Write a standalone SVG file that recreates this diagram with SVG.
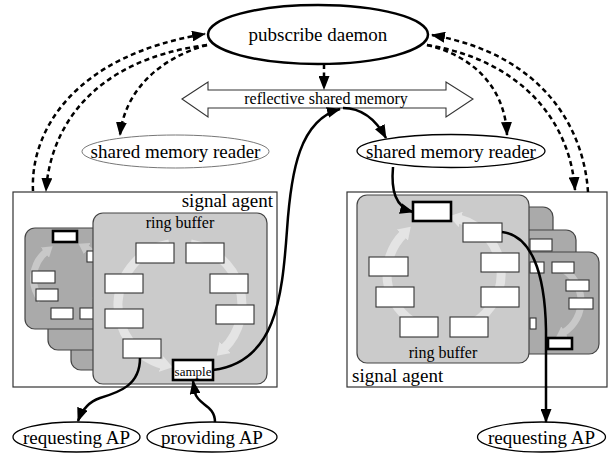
<svg xmlns="http://www.w3.org/2000/svg" width="608" height="453" viewBox="0 0 608 453" font-family="'Liberation Serif', 'Times New Roman', 'DejaVu Serif', serif">
  <defs>
    <style>
      text { font-family: 'Liberation Serif', 'Times New Roman', 'DejaVu Serif', serif; fill: #000; }
      .node { fill: #fff; stroke: #000; stroke-width: 1.3; }
      .agent { fill: #fff; stroke: #333; stroke-width: 1.2; }
      .front { fill: #cbcbcb; stroke: #444; stroke-width: 1.2; }
      .back { fill: #aaaaaa; stroke: #444; stroke-width: 1.2; }
      .slot { fill: #fff; stroke: #333; stroke-width: 1.1; }
      .cur { fill: #fff; stroke: #000; stroke-width: 2.6; }
      .ringF { fill: none; stroke: #e4e4e4; stroke-width: 9; }
      .ringB { fill: none; stroke: #c8c8c8; stroke-width: 7; }
      .solid { fill: none; stroke: #000; stroke-width: 2.5; }
      .dash { fill: none; stroke: #000; stroke-width: 2.5; stroke-dasharray: 5 3.5; }
    </style>
    <marker id="ah" markerUnits="userSpaceOnUse" markerWidth="14" markerHeight="11" viewBox="0 0 14 11" refX="13" refY="5.5" orient="auto">
      <path d="M0,0 L14,5.5 L0,11 z" fill="#000"/>
    </marker>
    <marker id="ahRingF" markerUnits="userSpaceOnUse" markerWidth="12" markerHeight="16" viewBox="0 0 12 16" refX="2" refY="8" orient="auto">
      <path d="M0,0 L12,8 L0,16 z" fill="#e4e4e4"/>
    </marker>
    <marker id="ahRingB" markerUnits="userSpaceOnUse" markerWidth="10" markerHeight="13" viewBox="0 0 10 13" refX="2" refY="6.5" orient="auto">
      <path d="M0,0 L10,6.5 L0,13 z" fill="#c8c8c8"/>
    </marker>
  </defs>

  <rect x="0" y="0" width="608" height="453" fill="#fff"/>

  <!-- daemon -->
  <g id="daemon">
    <ellipse cx="318" cy="34.5" rx="110" ry="29.5" fill="#fff" stroke="#000" stroke-width="2.5"/>
    <text x="318" y="41" font-size="19" text-anchor="middle">pubscribe daemon</text>
  </g>

  <!-- reflective shared memory (double arrow) -->
  <g id="reflective-memory">
    <polygon points="182,99 208,82 208,90 446,90 446,82 473,99 446,117 446,108 208,108 208,117" fill="#fff" stroke="#333" stroke-width="1.1"/>
    <text x="326" y="104" font-size="16" text-anchor="middle">reflective shared memory</text>
  </g>

  <!-- readers -->
  <g id="reader-left">
    <ellipse cx="175.5" cy="151.5" rx="93.5" ry="16.5" fill="#fff" stroke="#777" stroke-width="1"/>
    <text x="175.5" y="158" font-size="19" text-anchor="middle">shared memory reader</text>
  </g>
  <g id="reader-right">
    <ellipse class="node" cx="451" cy="151" rx="94" ry="16.5"/>
    <text x="451" y="158" font-size="19" text-anchor="middle">shared memory reader</text>
  </g>

  <!-- left signal agent -->
  <g id="agent-left">
    <rect class="agent" x="13" y="192" width="264" height="195"/>
    <text x="273" y="207" font-size="19" text-anchor="end">signal agent</text>
    <!-- stacked buffers behind -->
    <rect class="back" x="71" y="269" width="130" height="101" rx="10"/>
    <rect class="back" x="48" y="249" width="130" height="101" rx="10"/>
    <rect class="back" x="25" y="228" width="130" height="101" rx="10"/>
    <path class="ringB" d="M41.2,300.5 A35,35 0 0 1 46.5,251.4" marker-end="url(#ahRingB)"/>
    <path class="ringB" d="M94.8,300.5 A35,35 0 0 0 85.5,247.7" marker-end="url(#ahRingB)"/>
    <rect class="cur" x="53" y="231" width="24" height="11"/>
    <rect class="slot" x="87" y="251" width="23" height="11"/>
    <rect class="slot" x="32" y="271" width="23" height="12"/>
    <rect class="slot" x="36" y="289" width="22" height="12"/>
    <rect class="slot" x="51" y="308" width="22" height="11"/>
    <rect class="slot" x="80" y="308" width="22" height="11"/>
    <!-- front buffer -->
    <rect class="front" x="93" y="213" width="174" height="171" rx="10"/>
    <path class="ringF" d="M190.8,243.9 A62,62 0 0 1 223.8,348.8" marker-end="url(#ahRingF)"/>
    <path class="ringF" d="M169.2,243.9 A62,62 0 0 0 163,364.6" marker-end="url(#ahRingF)"/>
    <text x="180" y="228" font-size="16" text-anchor="middle">ring buffer</text>
    <rect class="slot" x="136" y="243" width="38" height="20"/>
    <rect class="slot" x="186" y="243" width="38" height="20"/>
    <rect class="slot" x="105" y="274" width="38" height="19"/>
    <rect class="slot" x="210" y="274" width="38" height="19"/>
    <rect class="slot" x="105" y="309" width="38" height="19"/>
    <rect class="slot" x="216" y="305" width="38" height="19"/>
    <rect class="slot" x="123" y="339" width="38" height="19"/>
    <rect class="cur" x="173" y="360" width="40" height="20"/>
    <text x="193" y="375.5" font-size="13" text-anchor="middle">sample</text>
  </g>

  <!-- right signal agent -->
  <g id="agent-right">
    <rect class="agent" x="347" y="192" width="260" height="195"/>
    <text x="352" y="382" font-size="19">signal agent</text>
    <!-- stacked buffers behind -->
    <rect class="back" x="423" y="207" width="130" height="101" rx="10"/>
    <rect class="back" x="446" y="230" width="130" height="101" rx="10"/>
    <rect class="slot" x="530" y="239" width="22" height="12"/>
    <rect class="back" x="469" y="252" width="130" height="102" rx="10"/>
    <path class="ringB" d="M560.7,268.2 A37,37 0 0 1 563,333" marker-end="url(#ahRingB)"/>
    <rect class="slot" x="530" y="262" width="14" height="11"/>
    <rect class="slot" x="552" y="262" width="22" height="11"/>
    <rect class="slot" x="566" y="280" width="23" height="11"/>
    <rect class="slot" x="569" y="298" width="24" height="11"/>
    <rect class="slot" x="530" y="318" width="6" height="11"/>
    <rect class="cur" x="548" y="338" width="24" height="11"/>
    <!-- front buffer -->
    <rect class="front" x="357" y="195" width="172" height="168" rx="10"/>
    <path class="ringF" d="M424.5,327.6 A57,57 0 0 1 403.7,233.7" marker-end="url(#ahRingF)"/>
    <path class="ringF" d="M463.5,327.6 A57,57 0 0 0 458.8,218.9" marker-end="url(#ahRingF)"/>
    <text x="443" y="358" font-size="16" text-anchor="middle">ring buffer</text>
    <rect class="cur" x="413" y="202" width="38" height="19"/>
    <rect class="slot" x="463" y="223" width="39" height="19"/>
    <rect class="slot" x="369" y="257" width="39" height="19"/>
    <rect class="slot" x="481" y="253" width="38" height="19"/>
    <rect class="slot" x="376" y="287" width="38" height="20"/>
    <rect class="slot" x="481" y="287" width="38" height="20"/>
    <rect class="slot" x="400" y="317" width="38" height="20"/>
    <rect class="slot" x="450" y="317" width="38" height="20"/>
  </g>

  <!-- application processes -->
  <g id="requesting-left">
    <ellipse class="node" cx="76.5" cy="437" rx="63.5" ry="15"/>
    <text x="76.5" y="444" font-size="19" text-anchor="middle">requesting AP</text>
  </g>
  <g id="providing">
    <ellipse class="node" cx="212" cy="437" rx="65" ry="15"/>
    <text x="212" y="444" font-size="19" text-anchor="middle">providing AP</text>
  </g>
  <g id="requesting-right">
    <ellipse class="node" cx="541.5" cy="437" rx="64" ry="15"/>
    <text x="541.5" y="444" font-size="19" text-anchor="middle">requesting AP</text>
  </g>

  <!-- connectors -->
  <g id="connectors">
    <!-- control (dashed) -->
    <path class="dash" d="M33,191 C30,130 75,55 205,34" marker-end="url(#ah)"/>
    <path class="dash" d="M207,45 C90,60 50,130 46,191" marker-end="url(#ah)"/>
    <path class="dash" d="M207,45 C160,58 125,90 120,135" marker-end="url(#ah)"/>
    <path class="dash" d="M588,192 C584,130 545,55 432,35" marker-end="url(#ah)"/>
    <path class="dash" d="M427,45 C520,60 570,120 575,190" marker-end="url(#ah)"/>
    <path class="dash" d="M427,45 C470,55 505,85 507,135" marker-end="url(#ah)"/>
    <path class="dash" d="M324,64 L324,89" marker-end="url(#ah)"/>
    <!-- data flow (solid) -->
    <path class="solid" d="M213,370 C275,362 282,300 287,230 C291,170 300,120 340,109" marker-end="url(#ah)"/>
    <path class="solid" d="M343,108 C360,108 375,118 386,138" marker-end="url(#ah)"/>
    <path class="solid" d="M393,167 C391,190 395,207 413,212" marker-end="url(#ah)"/>
    <path class="solid" d="M502,232 C530,235 545,270 546,330 L546,422" marker-end="url(#ah)"/>
    <path class="solid" d="M140,358 C140,385 120,392 100,398 C88,402 82,410 78,421" marker-end="url(#ah)"/>
    <path class="solid" d="M215,422 C215,405 198,405 195,393 L193,381" marker-end="url(#ah)"/>
  </g>
</svg>
